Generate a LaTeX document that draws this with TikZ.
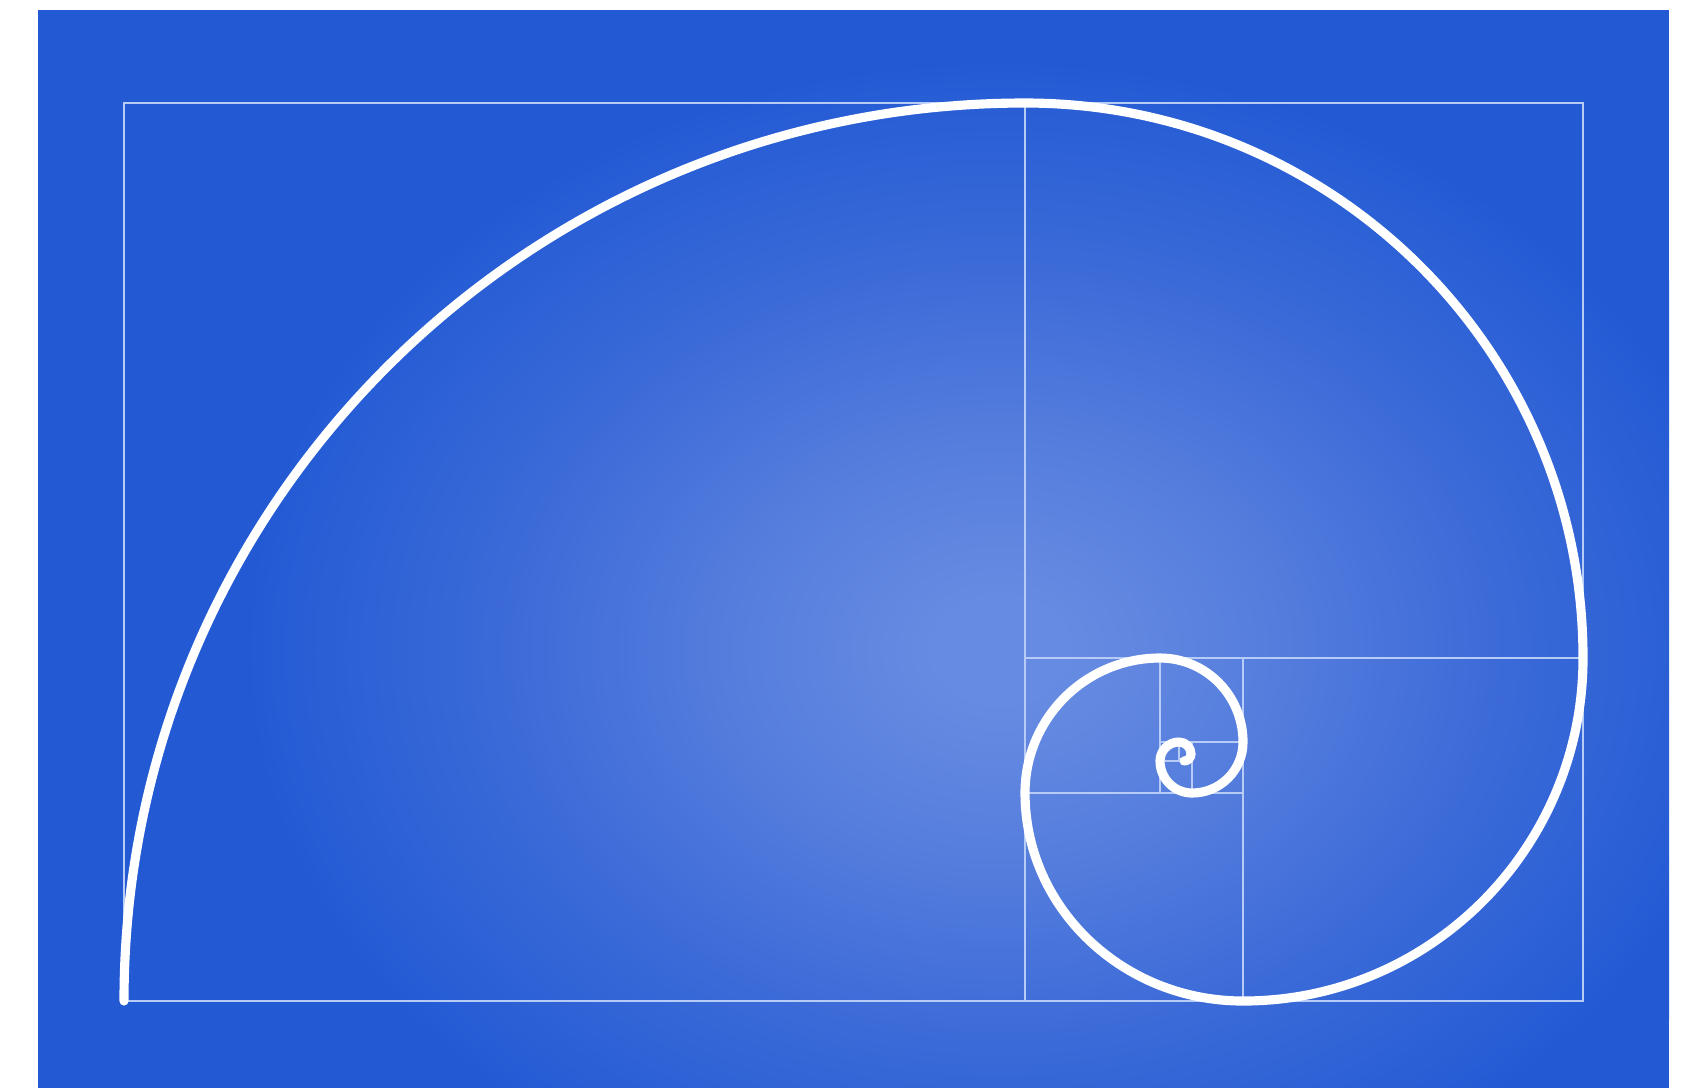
\documentclass[tikz,border=0pt]{standalone}
\usetikzlibrary{shadings}
\definecolor{bgblue}{RGB}{35,90,212}
\definecolor{glowA}{RGB}{102,139,226}
\definecolor{glowB}{RGB}{86,126,221}
\definecolor{glowC}{RGB}{60,107,216}
\definecolor{thinline}{RGB}{182,204,246}
\pgfdeclareradialshading{glowshade}{\pgfpoint{0bp}{0bp}}{color(0bp)=(glowA); color(2bp)=(glowA); color(8bp)=(glowB); color(15bp)=(glowC); color(23bp)=(bgblue); color(25bp)=(bgblue); color(50bp)=(bgblue)}
\tikzset{
  grid line/.style={draw=thinline, line width=0.7pt},
  spiral/.style={draw=white, line width=2.6pt, line cap=round, line join=round},
}
\begin{document}
\begin{tikzpicture}[x=0.01cm, y=-0.01cm]
  \useasboundingbox (0,0) rectangle (1692,1087);
  \fill[white] (-10,-10) rectangle (1702,1100);
  \fill[bgblue] (38,10) rectangle (1669,1100);
  \begin{scope}
    \clip (38,10) rectangle (1669,1100);
    \shade[shading=glowshade] (1000,650) ellipse [x radius=820, y radius=640];
  \end{scope}
  % rectangles
  \draw[grid line] (124,103) rectangle (1583,1001);
  \draw[grid line] (1025,103) -- (1025,1001);
  \draw[grid line] (1025,658) -- (1583,658);
  \draw[grid line] (1243,658) -- (1243,1001);
  \draw[grid line] (1025,793) -- (1243,793);
  \draw[grid line] (1160,658) -- (1160,793);
  \draw[grid line] (1160,742) -- (1243,742);
  \draw[grid line] (1192,742) -- (1192,793);
  \draw[grid line] (1160,761) -- (1192,761);
  \draw[grid line] (1179,742) -- (1179,761);
  % spiral
  \draw[spiral] (124,1001)
    arc[start angle=180, end angle=270, x radius=901, y radius=898]
    arc[start angle=270, end angle=360, x radius=558, y radius=555]
    arc[start angle=0, end angle=90, x radius=340, y radius=343]
    arc[start angle=90, end angle=180, x radius=218, y radius=208]
    arc[start angle=180, end angle=270, x radius=135, y radius=135]
    arc[start angle=270, end angle=360, x radius=83, y radius=84]
    arc[start angle=0, end angle=90, x radius=51, y radius=51]
    arc[start angle=90, end angle=180, x radius=32, y radius=32]
    arc[start angle=180, end angle=270, x radius=19, y radius=19]
    arc[start angle=270, end angle=360, x radius=12, y radius=12]
    arc[start angle=0, end angle=90, x radius=7, y radius=7];
\end{tikzpicture}
\end{document}
